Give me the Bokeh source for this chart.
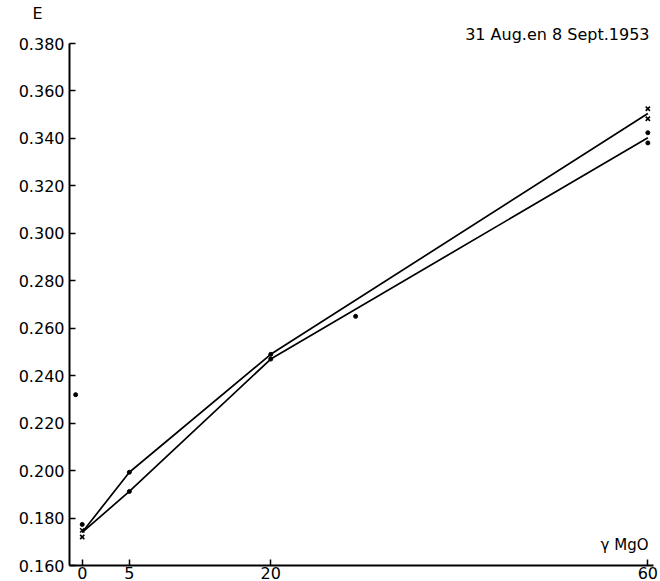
from bokeh.plotting import figure
from bokeh.models import FixedTicker, Label, Range1d, Title
from bokeh.embed import file_html
from bokeh.resources import INLINE

# ---- data ----
x_levels = [0, 5, 20, 60]
upper_line = [0.174, 0.1993, 0.249, 0.3505]
lower_line = [0.174, 0.1912, 0.247, 0.3403]

cross_x = [0, 0, 60, 60]
cross_y = [0.1748, 0.1720, 0.3525, 0.3483]

dot_x = [0, 5, 5, 20, 20, 60, 60, 29, -0.7]
dot_y = [0.1773, 0.1993, 0.1912, 0.249, 0.247, 0.3424, 0.3381, 0.265, 0.232]

xtick_values = [0, 5, 20, 60]
xtick_labels = ["0", "5", "20", "60"]
ytick_values = [0.16, 0.18, 0.20, 0.22, 0.24, 0.26, 0.28, 0.30, 0.32, 0.34, 0.36, 0.38]
ytick_labels = ["0.160", "0.180", "0.200", "0.220", "0.240", "0.260",
                "0.280", "0.300", "0.320", "0.340", "0.360", "0.380"]

title_text = "31 Aug.en 8 Sept.1953"
y_title = "E"
x_title = "γ MgO"

FONT = "DejaVu Sans"

p = figure(width=660, height=581,
           x_range=Range1d(-1.35, 60.6), y_range=Range1d(0.160, 0.380),
           output_backend="svg", toolbar_location=None,
           min_border_left=69, min_border_right=7,
           min_border_top=43, min_border_bottom=16)

p.xgrid.visible = False
p.ygrid.visible = False
p.outline_line_color = None
p.background_fill_color = "white"
p.border_fill_color = "white"

# y axis
yax = p.yaxis[0]
yax.ticker = FixedTicker(ticks=ytick_values)
yax.major_label_overrides = {v: l for v, l in zip(ytick_values, ytick_labels)}
yax.minor_tick_line_color = None
yax.major_tick_in = 6
yax.major_tick_out = 0
yax.major_label_standoff = 5
yax.axis_line_width = 2
yax.major_tick_line_width = 1.5
yax.axis_line_color = "black"
yax.major_tick_line_color = "black"
yax.major_label_text_font = FONT
yax.major_label_text_font_size = "16px"
yax.major_label_text_color = "black"

# x axis
xax = p.xaxis[0]
xax.ticker = FixedTicker(ticks=xtick_values)
xax.major_label_overrides = {v: l for v, l in zip(xtick_values, xtick_labels)}
xax.minor_tick_line_color = None
xax.major_tick_in = 6
xax.major_tick_out = 0
xax.major_label_standoff = 1
xax.axis_line_width = 2
xax.major_tick_line_width = 1.5
xax.axis_line_color = "black"
xax.major_tick_line_color = "black"
xax.major_label_text_font = FONT
xax.major_label_text_font_size = "16px"
xax.major_label_text_color = "black"

# lines
p.line(x_levels, upper_line, line_color="black", line_width=1.7)
p.line(x_levels, lower_line, line_color="black", line_width=1.7)

# markers
p.scatter(dot_x, dot_y, marker="circle", size=4, fill_color="black", line_color="black")
p.scatter(cross_x, cross_y, marker="x", size=6, line_color="black", line_width=1.6)

# texts outside the frame as titles
p.add_layout(Title(text=title_text, align="right", offset=4, standoff=0,
                   text_font=FONT, text_font_size="16px", text_font_style="normal",
                   text_color="black"), "above")
p.add_layout(Title(text=y_title, align="left", offset=-37, standoff=0,
                   text_font=FONT, text_font_size="16px", text_font_style="normal",
                   text_color="black"), "above")

# x-axis title inside the frame
p.add_layout(Label(x=579, y=21, x_units="screen", y_units="screen", text=x_title,
                   text_align="right", text_baseline="alphabetic",
                   text_font=FONT, text_font_size="15px", text_color="black"))

open("out.html", "w").write(file_html(p, INLINE))
